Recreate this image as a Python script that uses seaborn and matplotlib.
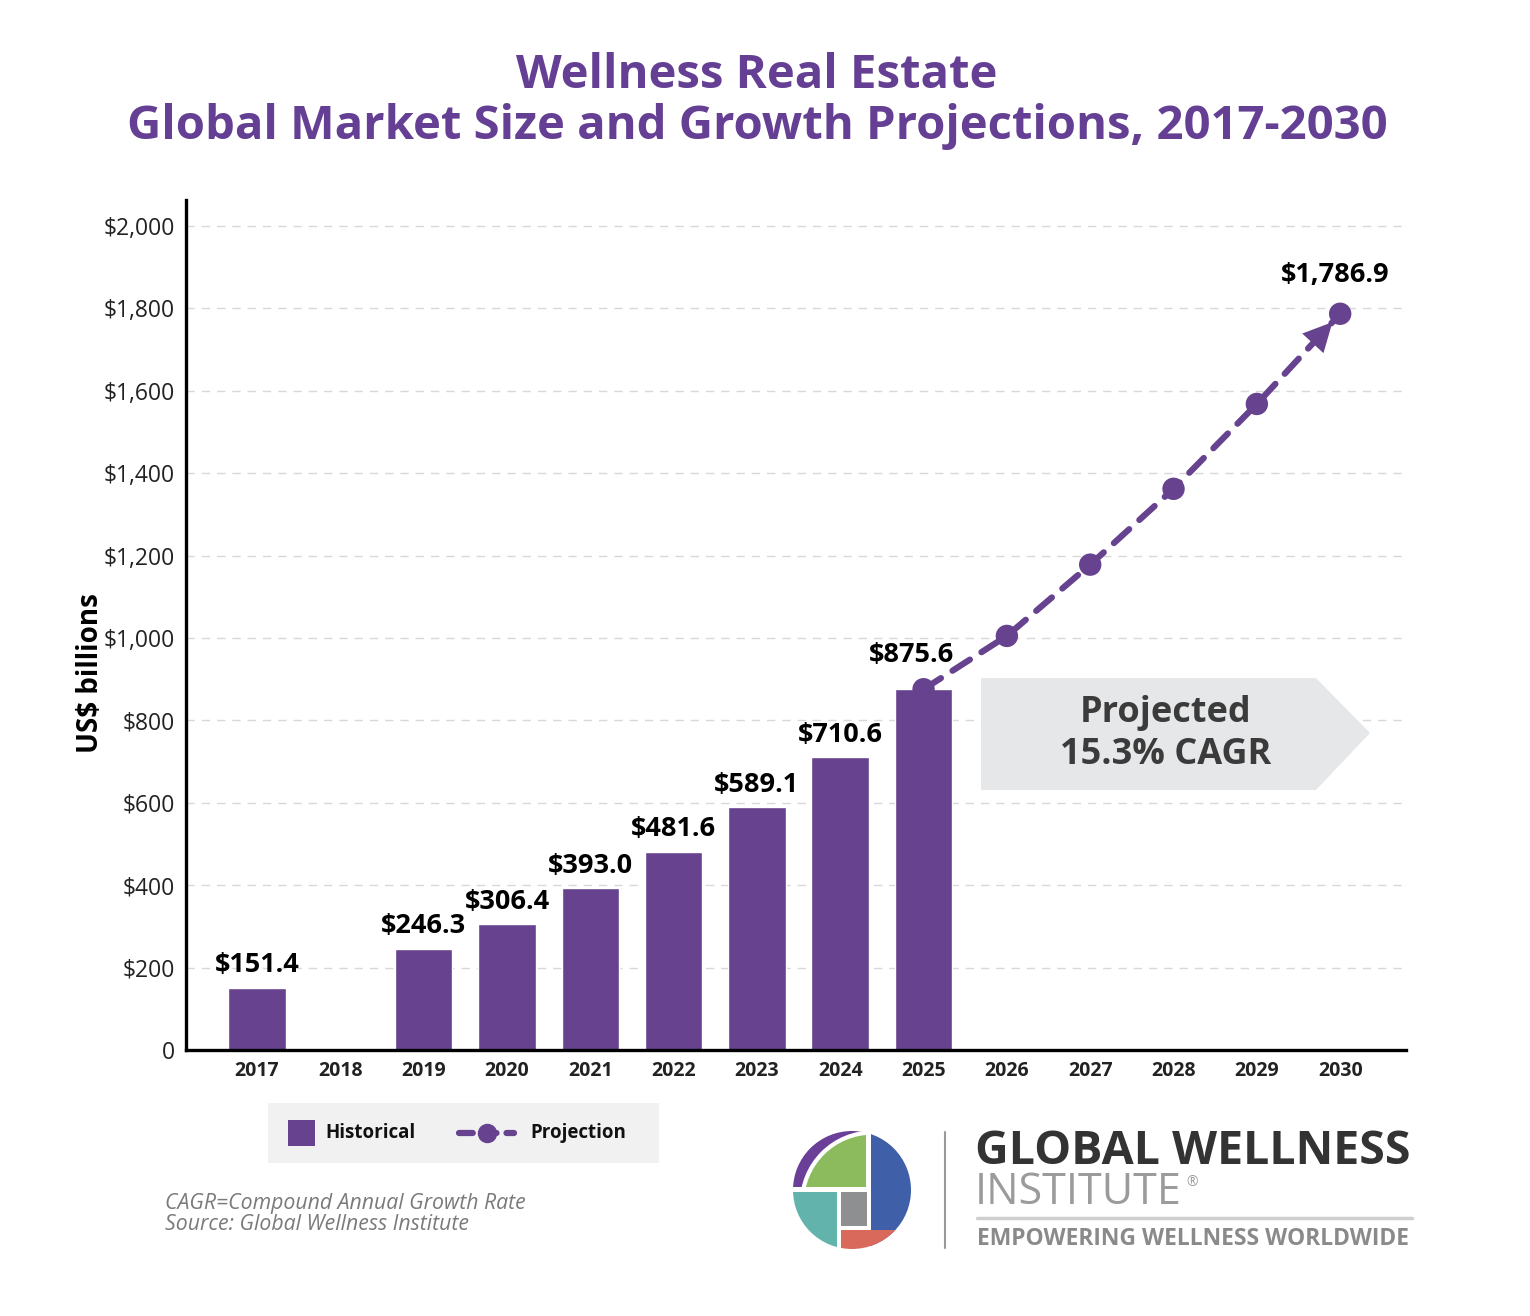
import matplotlib
matplotlib.use('Agg')
import matplotlib.pyplot as plt
import matplotlib.patches as mpatches
import pandas as pd
import seaborn as sns

# Data (US$ billions)
years = [str(y) for y in range(2017, 2031)]
hist_years = ['2017', '2019', '2020', '2021', '2022', '2023', '2024', '2025']
hist_values = [151.4, 246.3, 306.4, 393.0, 481.6, 589.1, 710.6, 875.6]
proj_years = ['2025', '2026', '2027', '2028', '2029', '2030']
proj_values = [875.6, 1005, 1178, 1362, 1568, 1786.9]
labeled_proj = {'2030': 1786.9}
y_ticks = [0, 200, 400, 600, 800, 1000, 1200, 1400, 1600, 1800, 2000]

purple = '#66428f'
title_purple = '#643f93'

sns.set_theme(style='white')
plt.rcParams['font.family'] = ['Open Sans', 'DejaVu Sans']

fig = plt.figure(figsize=(15.3, 13.16), dpi=100)
W, H = 1530, 1316
ax = fig.add_axes([186 / W, (H - 1050) / H, 1220 / W, 850 / H])
ax.set_facecolor('none')

hist = pd.DataFrame({'year': hist_years, 'value': hist_values})
sns.barplot(data=hist, x='year', y='value', order=years, color=purple,
            saturation=1, width=0.69, ax=ax, zorder=2)

pos = [years.index(y) for y in proj_years]
proj = pd.DataFrame({'pos': pos, 'value': proj_values})
sns.lineplot(data=proj, x='pos', y='value', color=purple, lw=4.5,
             dashes=False, ax=ax, zorder=3)
ax.lines[-1].set_linestyle((0, (3.3, 2.2)))
ax.lines[-1].set_dash_capstyle('round')
sns.scatterplot(data=proj, x='pos', y='value', color=purple, s=260,
                edgecolor='none', ax=ax, zorder=4)

# arrowhead just before the last point
x0, y0 = pos[-2], proj_values[-2]
x1, y1 = pos[-1], proj_values[-1]
ax.annotate('', xy=(x0 + (x1 - x0) * 0.93, y0 + (y1 - y0) * 0.93),
            xytext=(x0 + (x1 - x0) * 0.78, y0 + (y1 - y0) * 0.78),
            arrowprops=dict(arrowstyle='-|>', color=purple, lw=0,
                            mutation_scale=52), zorder=4)

# value labels
for yr, v in zip(hist_years, hist_values):
    i = years.index(yr)
    if yr == '2025':
        dx, dy = -0.15, 83
    else:
        dx, dy = 0, 54
    ax.text(i + dx, v + dy, f'${v:,.1f}', ha='center', va='center',
            fontsize=19.5, fontweight='bold', color='black', zorder=5)
for yr, v in labeled_proj.items():
    ax.text(years.index(yr) - 0.06, v + 95, f'${v:,.1f}', ha='center',
            va='center', fontsize=19.5, fontweight='bold', color='black')

ax.set_xlim(-0.852, 13.79)
ax.set_ylim(0, 2063)
ax.set_yticks(y_ticks)
ax.set_yticklabels(['0' if t == 0 else f'${t:,}' for t in y_ticks],
                   fontsize=16.5, color='#222222')
ax.set_xticks(range(len(years)))
ax.set_xticklabels(years, fontsize=14, fontweight='bold', color='#222222')
ax.tick_params(axis='y', length=0, pad=8)
ax.tick_params(axis='x', length=0, pad=8)
for t in y_ticks[1:]:
    ax.axhline(t, color='#d8d8d8', lw=1, ls=(0, (6, 5)), zorder=0)
ax.set_xlabel('')
ax.set_ylabel('US$ billions', fontsize=20, fontweight='bold', color='black')
ax.yaxis.set_label_coords(-0.066, 0.4435)
for s in ['top', 'right']:
    ax.spines[s].set_visible(False)
for s in ['left', 'bottom']:
    ax.spines[s].set_color('black')
    ax.spines[s].set_linewidth(2.4)

# overlay in pixel coordinates for decorations
top = fig.add_axes([0, 0, 1, 1], zorder=5)
top.set_xlim(0, W)
top.set_ylim(H, 0)
top.axis('off')

top.text(757, 75, 'Wellness Real Estate', ha='center', va='center',
         fontsize=34, fontweight='bold', color=title_purple)
top.text(757, 126, 'Global Market Size and Growth Projections, 2017-2030',
         ha='center', va='center', fontsize=34, fontweight='bold', color=title_purple)

# projected CAGR arrow box
top.add_patch(mpatches.Polygon([(981, 678), (1316, 678), (1370, 733), (1316, 790), (981, 790)],
                               closed=True, color='#e6e7e8', lw=0))
top.text(1166, 713, 'Projected', ha='center', va='center', fontsize=26,
         fontweight='bold', color='#3b3b3b')
top.text(1166, 755, '15.3% CAGR', ha='center', va='center', fontsize=26,
         fontweight='bold', color='#3b3b3b')

# legend
top.add_patch(mpatches.Rectangle((268, 1103), 391, 60, color='#f1f1f2', lw=0))
top.add_patch(mpatches.Rectangle((288, 1120), 27, 26, color=purple, lw=0))
top.text(325, 1133, 'Historical', ha='left', va='center', fontsize=13.5,
         fontweight='bold', color='#111111')
top.plot([459, 514], [1133, 1133], color=purple, lw=4.5, ls=(0, (2.2, 1.6)),
         dash_capstyle='round')
top.plot([487], [1133], 'o', color=purple, ms=13)
top.text(530, 1133, 'Projection', ha='left', va='center', fontsize=13.5,
         fontweight='bold', color='#111111')

# footnotes
top.text(165, 1203, 'CAGR=Compound Annual Growth Rate', ha='left', va='center',
         fontsize=15.3, style='italic', color='#7a7a7a')
top.text(165, 1225, 'Source: Global Wellness Institute', ha='left', va='center',
         fontsize=15.3, style='italic', color='#7a7a7a')

# logo
cx, cy, r = 852, 1190, 59
clip = mpatches.Circle((cx, cy), r, transform=top.transData)
pieces = [
    ((790, 1128), 76, 59, '#6b3f97'),
    ((871, 1128), 50, 125, '#3f5fa8'),
    ((788, 1192), 49, 62, '#62b3ab'),
    ((841, 1192), 26, 34, '#8e8f91'),
    ((841, 1230), 60, 25, '#d96a5b'),
]
for (x, y), w, h, c in pieces:
    p = mpatches.Rectangle((x, y), w, h, color=c, lw=0)
    top.add_patch(p)
    p.set_clip_path(clip)
gap = mpatches.Rectangle((790, 1128), 76, 59, color='white', lw=0)
top.add_patch(gap)
gap.set_clip_path(mpatches.Circle((872.4, 1203), 72.5, transform=top.transData))
green = mpatches.Rectangle((790, 1128), 76, 59, color='#8bbb5c', lw=0)
top.add_patch(green)
green.set_clip_path(mpatches.Circle((872.4, 1203), 68.3, transform=top.transData))

top.plot([945, 945], [1132, 1248], color='#9a9a9a', lw=1.5)
top.text(975, 1151, 'GLOBAL WELLNESS', ha='left', va='center', fontsize=33.5,
         fontweight='bold', color='#333333')
top.text(975, 1193, 'INSTITUTE', ha='left', va='center', fontsize=31,
         color='#9b9b9b')
top.text(1186, 1183, '®', ha='left', va='center', fontsize=10, color='#9b9b9b')
top.plot([977, 1412], [1218, 1218], color='#cfcfcf', lw=2.5)
top.text(977, 1239, 'EMPOWERING WELLNESS WORLDWIDE', ha='left', va='center',
         fontsize=16.5, fontweight='bold', color='#8a8a8a')

fig.savefig('out.png', dpi=100)
